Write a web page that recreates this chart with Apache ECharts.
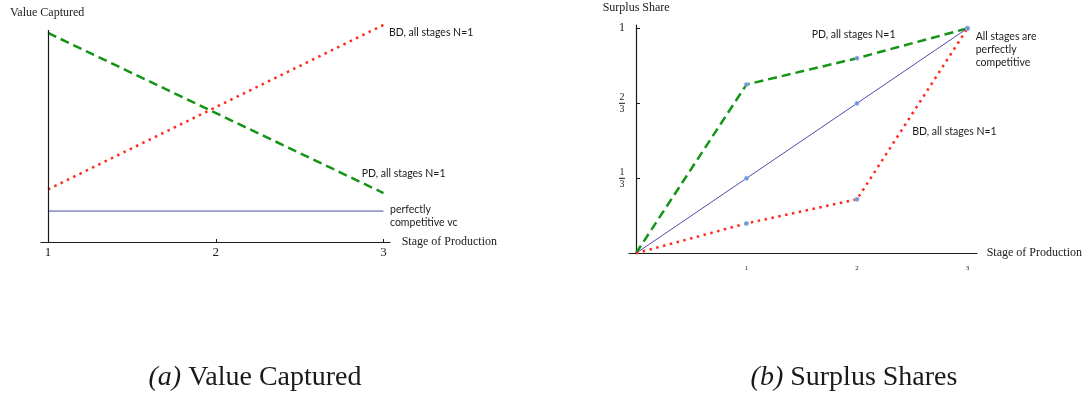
<!DOCTYPE html>
<html><head><meta charset="utf-8">
<script src="https://cdn.jsdelivr.net/npm/echarts@6/dist/echarts.min.js"></script>
<style>html,body{margin:0;padding:0;background:#fff}#c{width:1086px;height:394px}</style>
</head><body><div id="c"></div>
<script>
// (a) Value Captured
const stagesA = [1, 3];
const pdA = [0.986, 0.231];
const bdA = [0.248, 1.024];
const pcA = [0.146, 0.146];
const xTicksA = [1, 2, 3];
// (b) Surplus Shares
const stagesB = [0, 1, 2, 3];
const pdB = [0, 0.75, 0.867, 1];
const bdB = [0, 0.133, 0.24, 1];
const pcB = [0, 1/3, 2/3, 1];
const xTicksB = [1, 2, 3];
const yTicksB = [1/3, 2/3, 1];
const yTickLabelsB = ['1/3', '2/3', '1'];

const GREEN = '#149414', RED = '#ff2a1a', BLUE = '#4d4db0', INK = '#1a1a1a';
const SERIF = 'Liberation Serif', SANS = 'Lato';
const zip = (xs, ys) => xs.map((x, i) => [x, ys[i]]);

function fracLabel(v) {
  let idx = yTicksB.findIndex(t => Math.abs(t - v) < 1e-6);
  if (idx < 0) return '';
  const s = yTickLabelsB[idx];
  if (s.indexOf('/') < 0) return '{w|' + s + '}';
  const [n, d] = s.split('/');
  return '{n|' + n + '}\n{bar| }\n{n|' + d + '}';
}

const pdStyle = {color: GREEN, width: 2.5, type: [9, 5]};
const bdStyle = {color: RED, width: 2.5, type: [2.5, 4.5]};
const pcStyle = {color: BLUE, width: 1};
const markerSize = v => (v[0] === 0 ? 0 : 4);
const markerStyle = {color: '#6f8fd4', borderColor: 'rgba(150,180,235,0.7)', borderWidth: 1.2};

const chart = echarts.init(document.getElementById('c'), null, {renderer: 'canvas'});
chart.setOption({
  animation: false,
  backgroundColor: '#fff',
  grid: [
    {left: 41, top: 30, width: 349, height: 212},
    {left: 629, top: 25, width: 348, height: 228.3}
  ],
  xAxis: [
    {gridIndex: 0, type: 'value', min: 0.958, max: 3.039,
     axisLine: {show: true, onZero: false, lineStyle: {color: INK, width: 1.2}},
     axisTick: {show: true, inside: true, length: 3, customValues: xTicksA, lineStyle: {color: INK}},
     axisLabel: {show: true, customValues: xTicksA, margin: 4, fontFamily: SERIF, fontSize: 13, color: INK},
     splitLine: {show: false}},
    {gridIndex: 1, type: 'value', min: -0.063, max: 3.086,
     axisLine: {show: true, onZero: true, lineStyle: {color: INK, width: 1.2}},
     axisTick: {show: false},
     axisLabel: {show: true, customValues: xTicksB, margin: 11, fontFamily: SERIF, fontSize: 7, color: INK},
     splitLine: {show: false}}
  ],
  yAxis: [
    {gridIndex: 0, type: 'value', min: 0, max: 1,
     axisLine: {show: false}, axisTick: {show: false}, axisLabel: {show: false}, splitLine: {show: false}},
    {gridIndex: 1, type: 'value', min: 0, max: 1.0147,
     axisLine: {show: true, onZero: true, lineStyle: {color: INK, width: 1.2}},
     axisTick: {show: true, inside: true, length: 4, customValues: yTicksB, lineStyle: {color: INK}},
     axisLabel: {show: true, customValues: yTicksB, margin: 4, formatter: fracLabel, color: INK,
       rich: {
         w: {fontFamily: SERIF, fontSize: 12, color: INK, align: 'center'},
         n: {fontFamily: SERIF, fontSize: 10, lineHeight: 9, color: INK, align: 'center'},
         bar: {width: 6, height: 1, lineHeight: 3, fontSize: 1, backgroundColor: INK, align: 'center'}
       }},
     splitLine: {show: false}}
  ],
  series: [
    {name: 'PD, all stages N=1', type: 'line', xAxisIndex: 0, yAxisIndex: 0, data: zip(stagesA, pdA),
     symbol: 'none', clip: false, lineStyle: pdStyle, z: 3},
    {name: 'BD, all stages N=1', type: 'line', xAxisIndex: 0, yAxisIndex: 0, data: zip(stagesA, bdA),
     symbol: 'none', clip: false, lineStyle: bdStyle, z: 3},
    {name: 'perfectly competitive vc', type: 'line', xAxisIndex: 0, yAxisIndex: 0, data: zip(stagesA, pcA),
     symbol: 'none', clip: false, lineStyle: pcStyle, z: 2,
     markLine: {silent: true, symbol: 'none', label: {show: false},
       lineStyle: {color: INK, width: 1.2, type: 'solid'},
       data: [{xAxis: stagesA[0]}]}},
    {name: 'PD, all stages N=1 (b)', type: 'line', xAxisIndex: 1, yAxisIndex: 1, data: zip(stagesB, pdB),
     symbol: 'circle', symbolSize: markerSize, showSymbol: true, clip: false,
     lineStyle: pdStyle, itemStyle: markerStyle, z: 3},
    {name: 'Perfectly competitive (b)', type: 'line', xAxisIndex: 1, yAxisIndex: 1, data: zip(stagesB, pcB),
     symbol: 'circle', symbolSize: markerSize, showSymbol: true, clip: false,
     lineStyle: pcStyle, itemStyle: markerStyle, z: 3},
    {name: 'BD, all stages N=1 (b)', type: 'line', xAxisIndex: 1, yAxisIndex: 1, data: zip(stagesB, bdB),
     symbol: 'circle', symbolSize: markerSize, showSymbol: true, clip: false,
     lineStyle: bdStyle, itemStyle: markerStyle, z: 3}
  ],
  graphic: [
    {type: 'text', left: 10, top: 7, style: {text: 'Value Captured', font: '12px "Liberation Serif"', fill: INK}},
    {type: 'text', x: 389, y: 33, style: {text: 'BD, all stages N=1', font: '10.5px Lato', fill: INK, textVerticalAlign: 'middle'}},
    {type: 'text', x: 361.7, y: 173.3, style: {text: 'PD, all stages N=1', font: '10.5px Lato', fill: INK, textVerticalAlign: 'middle'}},
    {type: 'text', x: 390, y: 203.7, style: {text: 'perfectly\ncompetitive vc', font: '10.5px Lato', lineHeight: 12.7, fill: INK, textVerticalAlign: 'top'}},
    {type: 'text', x: 401.7, y: 241.7, style: {text: 'Stage of Production', font: '12px "Liberation Serif"', fill: INK, textVerticalAlign: 'middle'}},
    {type: 'text', x: 602.7, y: 8, style: {text: 'Surplus Share', font: '12px "Liberation Serif"', fill: INK, textVerticalAlign: 'middle'}},
    {type: 'text', x: 986.7, y: 253.3, style: {text: 'Stage of Production', font: '12px "Liberation Serif"', fill: INK, textVerticalAlign: 'middle'}},
    {type: 'text', x: 811.7, y: 34.3, style: {text: 'PD, all stages N=1', font: '10.5px Lato', fill: INK, textVerticalAlign: 'middle'}},
    {type: 'text', x: 975.7, y: 30.2, style: {text: 'All stages are\nperfectly\ncompetitive', font: '10.5px Lato', lineHeight: 13, fill: INK, textVerticalAlign: 'top'}},
    {type: 'text', x: 912.3, y: 131.7, style: {text: 'BD, all stages N=1', font: '10.5px Lato', fill: INK, textVerticalAlign: 'middle'}},
    {type: 'text', x: 255, y: 378, style: {text: '{i|(a)} {r|Value Captured}', textAlign: 'center', textVerticalAlign: 'middle',
      rich: {i: {fontFamily: SERIF, fontStyle: 'italic', fontSize: 28, fill: INK, color: INK},
             r: {fontFamily: SERIF, fontSize: 28, color: INK}}, font: '28px "Liberation Serif"', fill: INK}},
    {type: 'text', x: 854, y: 378, style: {text: '{i|(b)} {r|Surplus Shares}', textAlign: 'center', textVerticalAlign: 'middle',
      rich: {i: {fontFamily: SERIF, fontStyle: 'italic', fontSize: 28, color: INK},
             r: {fontFamily: SERIF, fontSize: 28, color: INK}}, font: '28px "Liberation Serif"', fill: INK}}
  ]
});
</script>
</body></html>
